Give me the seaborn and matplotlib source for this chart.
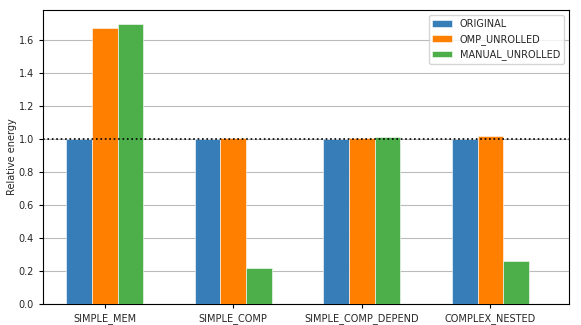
import matplotlib
matplotlib.use("Agg")
import matplotlib.pyplot as plt
import pandas as pd
import seaborn as sns

# chart data
benchmarks = ["SIMPLE_MEM", "SIMPLE_COMP", "SIMPLE_COMP_DEPEND", "COMPLEX_NESTED"]
variants = ["ORIGINAL", "OMP_UNROLLED", "MANUAL_UNROLLED"]
original = [1.0, 1.0, 1.0, 1.0]
omp_unrolled = [1.673, 1.003, 1.002, 1.016]
manual_unrolled = [1.697, 0.216, 1.010, 0.262]
colors = ["#377eb8", "#ff7f00", "#4daf4a"]

rows = []
for name, vals in zip(variants, [original, omp_unrolled, manual_unrolled]):
    for b, v in zip(benchmarks, vals):
        rows.append({"benchmark": b, "variant": name, "energy": v})
df = pd.DataFrame(rows)

sns.set_style("white")
plt.rcParams["font.family"] = ["DejaVu Sans"]
plt.rcParams["font.size"] = 7

fig, ax = plt.subplots(figsize=(5.81, 3.25), dpi=100)
sns.barplot(data=df, x="benchmark", y="energy", hue="variant",
            hue_order=variants, order=benchmarks, palette=colors,
            width=0.6, saturation=1, edgecolor="white", linewidth=0.4,
            errorbar=None, ax=ax, zorder=3)

ax.axhline(1.0, color="black", linestyle=":", linewidth=1.2, zorder=4)
ax.yaxis.grid(True, color="#bbbbbb", linewidth=0.8, zorder=0)
ax.set_axisbelow(True)
ax.set_ylim(0, 1.78)
ax.set_xlim(-0.48, 3.61)
ax.set_xlabel("")
ax.set_ylabel("Relative energy", fontsize=7, labelpad=1)
ax.tick_params(axis="both", labelsize=7, length=3, width=0.8, color="black",
               left=True, bottom=True)
for s in ax.spines.values():
    s.set_color("black")
    s.set_linewidth(0.8)

ax.legend(loc="upper right", fontsize=7, frameon=True, fancybox=True,
          framealpha=0.8, edgecolor="#cccccc")

fig.subplots_adjust(left=0.074, right=0.979, top=0.969, bottom=0.065)
fig.savefig("out.png", dpi=100)
